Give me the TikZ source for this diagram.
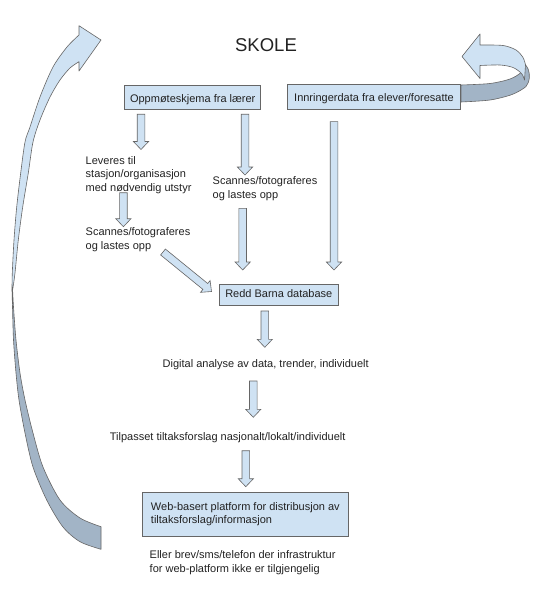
\documentclass[tikz,border=0pt]{standalone}
\usepackage{fontspec}
\setmainfont{Liberation Sans}
\usetikzlibrary{calc}
\definecolor{lblue}{HTML}{CFE2F3}
\definecolor{dblue}{HTML}{A2B4C6}
\definecolor{edgec}{HTML}{666666}
\definecolor{ink}{HTML}{222222}
\newcommand\fs{\fontsize{11}{13.6}\selectfont}
\newcommand\barrow[2]{%
  \coordinate (#1x) at ($(#2)!8pt!(#1)$);
  \draw[barr] ($(#1)!3.8pt!90:(#2)$) -- ($(#1x)!3.8pt!90:(#2)$) -- ($(#1x)!7.6pt!90:(#2)$) -- (#2)
    -- ($(#1x)!7.6pt!-90:(#2)$) -- ($(#1x)!3.8pt!-90:(#2)$) -- ($(#1)!3.8pt!-90:(#2)$) -- cycle;}
\tikzset{
  box/.style={draw=edgec, line width=0.7pt, fill=lblue, font=\fs, text=ink, inner sep=0pt, anchor=north west},
  txt/.style={font=\fs, text=ink, inner sep=0pt, anchor=north west, align=left},
  barr/.style={draw=edgec, line width=0.6pt, fill=lblue, line join=miter},
  ribf/.style={draw=edgec, line width=0.6pt, fill=lblue, line join=round},
  ribb/.style={draw=edgec, line width=0.6pt, fill=dblue, line join=round},
}
\begin{document}
\begin{tikzpicture}[x=1pt, y=-1pt]
\fill[white] (0,0) rectangle (545,604);
\useasboundingbox (0,0) rectangle (545,604);

% left curved return arrow (back face, then front face)
\filldraw[ribb] (12,290) -- plot[smooth] coordinates {(12,290) (12.5,307) (13.5,340) (16,373) (19,400) (25,433) (33,467) (46.7,500) (63,527) (80,541.7) (101,549.3)}
  -- (101,526.7) -- plot[smooth] coordinates {(101,526.7) (80,518) (60,500) (43,467) (33,433) (25,400) (20,373) (16,340) (13.5,307) (12.6,290)} -- cycle;
\filldraw[ribf] (101,40) -- (79,25.7) -- plot[smooth] coordinates {(79,35) (67,47) (53,67) (40,97) (30,127) (25,142) (20.7,173) (16.7,207) (14,240) (12.3,273) (12,290)}
  -- plot[smooth] coordinates {(12.6,290) (15,273) (18.3,240) (22.7,207) (28.3,173) (33,142) (40,120) (50,97) (60,80) (70,68) (79,61.7)} -- (79,71) -- cycle;

% right curved arrow
\filldraw[ribb] (461,85) -- plot[smooth] coordinates {(461,85) (490,83.5) (510,79) (521,72.5) (525,64)}
  -- plot[smooth] coordinates {(525,64) (528.5,70) (529.3,78) (526,86.5) (512,94.5) (490,100) (461,102)} -- cycle;
\filldraw[ribf] (462,56.5) -- (480,34) -- plot[smooth] coordinates {(480,45) (503,45.5) (516,50) (523,57.5) (525.5,65)}
  -- (524.5,80) -- plot[smooth] coordinates {(524.5,80) (521.5,73.5) (513,67.5) (500,65) (480,65.5)} -- (480,78.5) -- cycle;

% title
\node[font=\fontsize{18.5}{22}\selectfont, text=ink, inner sep=0pt, anchor=base] (skole) at (266,51.5) {SKOLE};

% boxes
\node[box, minimum width=136.1pt, minimum height=24.3pt] (opp) at (124.3,85) {\rule[-1.8pt]{0pt}{13.8pt}Oppmøteskjema fra lærer};
\node[box, minimum width=172.7pt, minimum height=25pt] (inn) at (287.3,84.3) {\rule[-3.2pt]{0pt}{14.2pt}Innringerdata fra elever/foresatte};
\node[box, minimum width=118.1pt, minimum height=20.7pt] (redd) at (219.4,284.3) {\strut Redd Barna database};
\node[box, minimum width=206.6pt, minimum height=43.4pt, align=left] (web) at (141.7,492.3) {\strut Web-basert platform for distribusjon av\\\strut tiltaksforslag/informasjon};

% free texts
\node[txt] (lev) at (85.5,154.5) {\strut Leveres til\\\strut stasjon/organisasjon\\\strut med nødvendig utstyr};
\node[txt] (scanl) at (85.5,226.2) {\strut Scannes/fotograferes\\\strut og lastes opp};
\node[txt] (scanm) at (212.5,174.8) {\strut Scannes/fotograferes\\\strut og lastes opp};
\node[txt] (dig) at (162.5,357.8) {\strut Digital analyse av data, trender, individuelt};
\node[txt] (tilp) at (109.7,431.2) {\strut Tilpasset tiltaksforslag nasjonalt/lokalt/individuelt};
\node[txt] (eller) at (149.5,548.8) {\strut Eller brev/sms/telefon der infrastruktur\\\strut for web-platform ikke er tilgjengelig};

% block arrows
\coordinate (a1t) at (141,114.3);   \coordinate (a1h) at (141,149.5);
\coordinate (a2t) at (245,114.3);   \coordinate (a2h) at (245,175);
\coordinate (a3t) at (334,121.7);   \coordinate (a3h) at (334,270);
\coordinate (a4t) at (123.4,192.7); \coordinate (a4h) at (123.4,226.7);
\coordinate (a5t) at (242.7,208.3); \coordinate (a5h) at (242.7,270);
\coordinate (a6t) at (264.8,311);   \coordinate (a6h) at (264.8,347.3);
\coordinate (a7t) at (253.3,381);   \coordinate (a7h) at (253.3,417.3);
\coordinate (a8t) at (245.8,450.7); \coordinate (a8h) at (245.8,486.7);
\coordinate (a9t) at (163,252);     \coordinate (a9h) at (211.5,291.5);
\barrow{a1t}{a1h}
\barrow{a2t}{a2h}
\barrow{a3t}{a3h}
\barrow{a4t}{a4h}
\barrow{a5t}{a5h}
\barrow{a6t}{a6h}
\barrow{a7t}{a7h}
\barrow{a8t}{a8h}
\barrow{a9t}{a9h}
\end{tikzpicture}
\end{document}
